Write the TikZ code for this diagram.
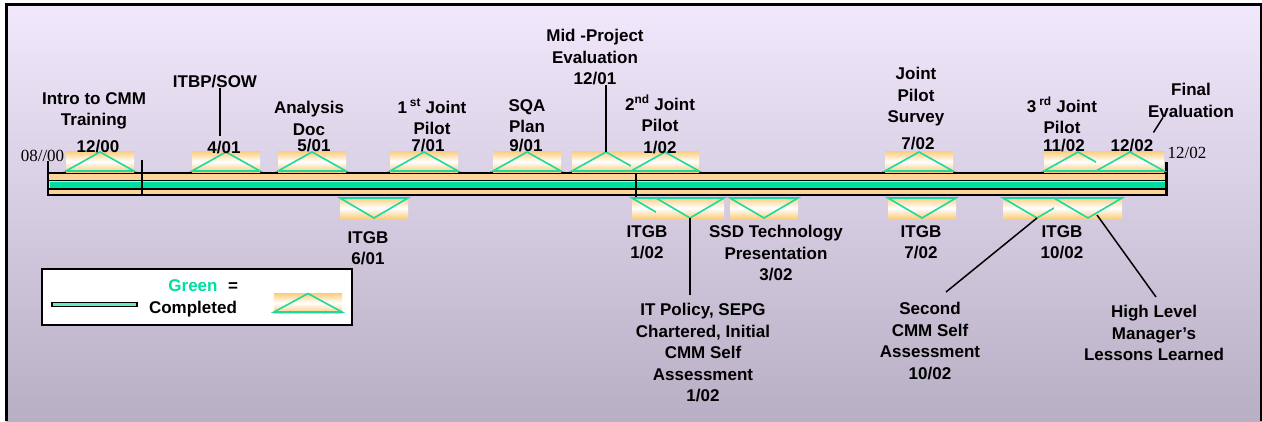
\documentclass[tikz,border=0pt]{standalone}
\usepackage{fontspec}
\setmainfont{Liberation Sans}
\newfontfamily\timesfont{Liberation Serif}
\definecolor{bgtop}{RGB}{242,232,252}
\definecolor{bgbot}{RGB}{184,175,197}
\definecolor{barorange}{RGB}{252,214,152}
\definecolor{boxorange}{RGB}{252,204,120}
\definecolor{donegreen}{RGB}{0,222,160}
\definecolor{trigreen}{RGB}{30,216,160}
\tikzset{
  lbl/.style={font=\bfseries\fontsize{17}{21.5}\selectfont, align=center, inner sep=0pt},
  serifdate/.style={font=\timesfont\fontsize{17}{20}\selectfont, inner sep=0pt, anchor=base},
  msbox/.style={top color=boxorange, bottom color=boxorange, middle color=white, draw=none},
  tri/.style={draw=trigreen, line width=1.6pt, line join=miter},
  lead/.style={line width=1.5pt},
}
\begin{document}
\begin{tikzpicture}[x=1pt,y=-1pt]
    \useasboundingbox (0,0) rectangle (1262,421);
    \shade[top color=bgtop, bottom color=bgbot] (6,4) rectangle (1262,421);
    \draw[line width=3pt] (6.5,421) -- (6.5,4.5) -- (1261.5,4.5) -- (1261.5,421);
    % 時間軸
    \coordinate (barA) at (48,173);
    \coordinate (barB) at (1166,195);
    \fill[barorange] (barA) rectangle (barB);
    \fill[donegreen] (50,181.5) rectangle (1166,188);
    \draw[line width=2pt] (48,173) -- (1166,173);
    \draw[line width=1.5pt] (48,180.5) -- (1166,180.5);
    \draw[line width=1.5pt] (48,189) -- (1166,189);
    \draw[line width=2pt] (48,194.5) -- (1166,194.5);
    \draw[line width=2pt] (48,161) -- (48,195.5);
    \draw[line width=2pt] (142,160) -- (142,194.5);
    \draw[line width=2pt] (636,164) -- (636,198);
    \draw[line width=3pt] (1166,162) -- (1166,196);
    \node[serifdate] (tstart) at (42.5,161) {08//00};
    \node[serifdate] (tend) at (1187,158) {12/02};
    % マイルストーン（上・下）
    \foreach \nm/\cx in {m1200/100, m401/226, m501/312, m701/424, m901/527,
                         m1201/606, m102/665, m702/919, m1102/1078, m1202/1130} {
        \shade[msbox] (\cx-34,151) rectangle (\cx+34,172);
        \draw[tri] (\cx-34,171) -- (\cx,152) coordinate (\nm-top) -- (\cx+34,171) -- cycle;
    }
    \foreach \nm/\cx in {m601/374, mitgb102/666, mpol/690, m302/764,
                         mitgb702/922, msec/1037, m1002/1088} {
        \shade[msbox] (\cx-34,197) rectangle (\cx+34,219);
        \draw[tri] (\cx-34,198) -- (\cx,218) coordinate (\nm-tip) -- (\cx+34,198) -- cycle;
    }
    % ラベル（上）
    \node[lbl, anchor=north] (intro) at (94,92) {Intro to CMM\\Training};
    \node[lbl, anchor=base] (d1200) at (98,152) {12/00};
    \node[lbl, anchor=base] (itbp) at (215,87) {ITBP/SOW};
    \node[lbl, anchor=base] (d401) at (224,153) {4/01};
    \node[lbl, anchor=north] (analysis) at (309,101) {Analysis\\Doc};
    \node[lbl, anchor=base] (d501) at (314,151) {5/01};
    \node[lbl, anchor=north] (pilot1) at (432,99) {1\,\textsuperscript{st}~Joint\\Pilot};
    \node[lbl, anchor=base] (d701) at (428,151) {7/01};
    \node[lbl, anchor=north] (sqa) at (527,99) {SQA\\Plan};
    \node[lbl, anchor=base] (d901) at (526,151) {9/01};
    \node[lbl, anchor=north] (midproj) at (595,29) {Mid -Project\\Evaluation\\12/01};
    \node[lbl, anchor=north] (pilot2) at (660,95) {2\textsuperscript{nd}~Joint\\Pilot\\1/02};
    \node[lbl, anchor=north] (survey) at (916,67) {Joint\\Pilot\\Survey};
    \node[lbl, anchor=base] (d702) at (918,149) {7/02};
    \node[lbl, anchor=north] (pilot3) at (1062,97) {3\,\textsuperscript{rd}~Joint\\Pilot};
    \node[lbl, anchor=base] (d1102) at (1064,151) {11/02};
    \node[lbl, anchor=north] (final) at (1191,83) {Final\\Evaluation};
    \node[lbl, anchor=base] (d1202) at (1132,151) {12/02};
    % ラベル（下）
    \node[lbl, anchor=north] (itgb1) at (368,231) {ITGB\\6/01};
    \node[lbl, anchor=north] (itgb2) at (647,225) {ITGB\\1/02};
    \node[lbl, anchor=north] (ssd) at (776,225) {SSD Technology\\Presentation\\3/02};
    \node[lbl, anchor=north] (policy) at (703,303) {IT Policy, SEPG\\Chartered, Initial\\CMM Self\\Assessment\\1/02};
    \node[lbl, anchor=north] (itgb3) at (921,225) {ITGB\\7/02};
    \node[lbl, anchor=north] (itgb4) at (1062,225) {ITGB\\10/02};
    \node[lbl, anchor=north] (second) at (930,302) {Second\\CMM Self\\Assessment\\10/02};
    \node[lbl, anchor=north] (highlvl) at (1154,305) {High Level\\Manager’s\\Lessons Learned};
    % 引き出し線
    \draw[lead] ([xshift=5pt]itbp.south) -- ([xshift=-4pt,yshift=4pt]d401.north);
    \draw[lead] (m1201-top |- midproj.south) -- (m1201-top);
    \draw[lead] ([xshift=-28pt]final.south) -- ([yshift=6pt]d1202.north east);
    \draw[lead] (mpol-tip) -- ([yshift=8pt]mpol-tip |- policy.north);
    \draw[lead] (msec-tip) -- ([xshift=16pt,yshift=10pt]second.north);
    \draw[lead] ([xshift=9pt,yshift=3pt]m1002-tip) -- ([xshift=2pt,yshift=8pt]highlvl.north);
    % 凡例
    \draw[line width=1.5pt, fill=white] (42,269) rectangle (352,325);
    \draw[line width=1.2pt, fill=donegreen!60!white] (52,302.5) rectangle (137,306.5);
    \node[lbl, anchor=base, text=donegreen] (green) at (193,291) {Green};
    \node[lbl, anchor=base] (eq) at (233,291) {=};
    \node[lbl, anchor=base] (done) at (193,313) {Completed};
    \shade[msbox] (274,293) rectangle (342,313);
    \draw[tri] (274,312) -- (308,293.5) -- (342,312) -- cycle;
\end{tikzpicture}
\end{document}
